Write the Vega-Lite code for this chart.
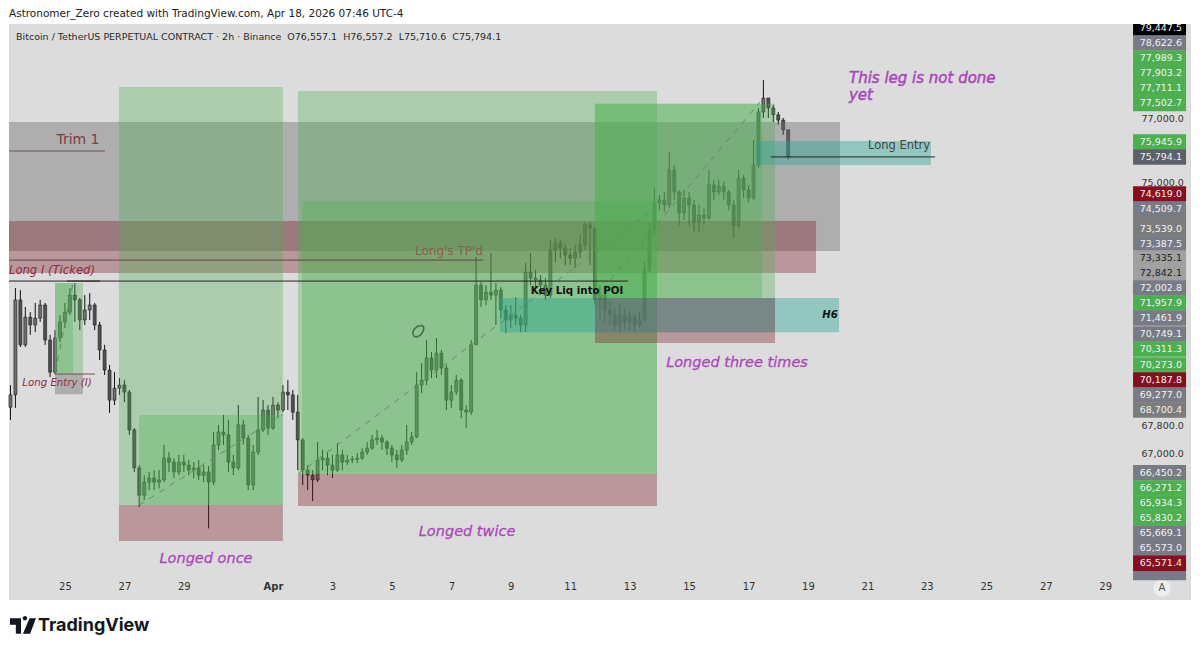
{
  "$schema": "https://vega.github.io/schema/vega-lite/v6.json",
  "width": 1182,
  "height": 576,
  "autosize": {"type": "none"},
  "padding": {"left": 9, "top": 24, "right": 9, "bottom": 53},
  "background": "#ffffff",
  "title": {"text": "Astronomer_Zero created with TradingView.com, Apr 18, 2026 07:46 UTC-4", "anchor": "start", "frame": "group", "fontSize": 10.5, "fontWeight": "normal", "color": "#222222", "offset": 5},
  "config": {"font": "DejaVu Sans", "view": {"fill": "#dcdcdc", "stroke": null}},
  "datasets": {
    "candles": [
      {"t":"2026-03-23T04:00Z","o":68310,"h":68940,"l":67950,"c":68660},
      {"t":"2026-03-23T08:00Z","o":68660,"h":71770,"l":68290,"c":71420},
      {"t":"2026-03-23T12:00Z","o":71420,"h":71710,"l":70040,"c":70100},
      {"t":"2026-03-23T16:00Z","o":70100,"h":71210,"l":70040,"c":70910},
      {"t":"2026-03-23T20:00Z","o":70910,"h":71060,"l":70390,"c":70680},
      {"t":"2026-03-24T00:00Z","o":70680,"h":71330,"l":70470,"c":70880},
      {"t":"2026-03-24T04:00Z","o":70880,"h":71420,"l":70770,"c":71270},
      {"t":"2026-03-24T08:00Z","o":71270,"h":71330,"l":70100,"c":70240},
      {"t":"2026-03-24T12:00Z","o":70240,"h":70390,"l":69170,"c":69310},
      {"t":"2026-03-24T16:00Z","o":69310,"h":70530,"l":69250,"c":70300},
      {"t":"2026-03-24T20:00Z","o":70300,"h":70970,"l":70180,"c":70770},
      {"t":"2026-03-25T00:00Z","o":70770,"h":71330,"l":70590,"c":71060},
      {"t":"2026-03-25T04:00Z","o":71060,"h":71770,"l":70970,"c":71560},
      {"t":"2026-03-25T08:00Z","o":71560,"h":71920,"l":70770,"c":71420},
      {"t":"2026-03-25T12:00Z","o":71420,"h":71480,"l":70530,"c":70830},
      {"t":"2026-03-25T16:00Z","o":70830,"h":71560,"l":70680,"c":71120},
      {"t":"2026-03-25T20:00Z","o":71120,"h":71620,"l":70830,"c":71270},
      {"t":"2026-03-26T00:00Z","o":71270,"h":71330,"l":70530,"c":70680},
      {"t":"2026-03-26T04:00Z","o":70680,"h":70770,"l":69660,"c":69950},
      {"t":"2026-03-26T08:00Z","o":69950,"h":70100,"l":69230,"c":69370},
      {"t":"2026-03-26T12:00Z","o":69370,"h":69520,"l":68150,"c":68510},
      {"t":"2026-03-26T16:00Z","o":68510,"h":69310,"l":68370,"c":68850},
      {"t":"2026-03-26T20:00Z","o":68850,"h":69140,"l":68660,"c":68940},
      {"t":"2026-03-27T00:00Z","o":68940,"h":69080,"l":68450,"c":68740},
      {"t":"2026-03-27T04:00Z","o":68740,"h":68800,"l":67530,"c":67670},
      {"t":"2026-03-27T08:00Z","o":67670,"h":67720,"l":66500,"c":66610},
      {"t":"2026-03-27T12:00Z","o":66610,"h":66690,"l":65540,"c":65860},
      {"t":"2026-03-27T16:00Z","o":65860,"h":66410,"l":65730,"c":66220},
      {"t":"2026-03-27T20:00Z","o":66220,"h":66500,"l":66000,"c":66330},
      {"t":"2026-03-28T00:00Z","o":66330,"h":66550,"l":66000,"c":66220},
      {"t":"2026-03-28T04:00Z","o":66220,"h":66550,"l":66050,"c":66280},
      {"t":"2026-03-28T08:00Z","o":66280,"h":67250,"l":66220,"c":66880},
      {"t":"2026-03-28T12:00Z","o":66880,"h":67050,"l":66500,"c":66770},
      {"t":"2026-03-28T16:00Z","o":66770,"h":66880,"l":66330,"c":66500},
      {"t":"2026-03-28T20:00Z","o":66500,"h":66970,"l":66410,"c":66770},
      {"t":"2026-03-29T00:00Z","o":66770,"h":66970,"l":66500,"c":66690},
      {"t":"2026-03-29T04:00Z","o":66690,"h":66830,"l":66410,"c":66550},
      {"t":"2026-03-29T08:00Z","o":66550,"h":66770,"l":66330,"c":66610},
      {"t":"2026-03-29T12:00Z","o":66610,"h":66830,"l":66280,"c":66410},
      {"t":"2026-03-29T16:00Z","o":66410,"h":66690,"l":66220,"c":66500},
      {"t":"2026-03-29T20:00Z","o":66500,"h":66660,"l":64960,"c":66220},
      {"t":"2026-03-30T00:00Z","o":66220,"h":67610,"l":66140,"c":67250},
      {"t":"2026-03-30T04:00Z","o":67250,"h":67810,"l":67110,"c":67610},
      {"t":"2026-03-30T08:00Z","o":67610,"h":68090,"l":67250,"c":67530},
      {"t":"2026-03-30T12:00Z","o":67530,"h":67950,"l":66500,"c":66770},
      {"t":"2026-03-30T16:00Z","o":66770,"h":66970,"l":66410,"c":66610},
      {"t":"2026-03-30T20:00Z","o":66610,"h":68370,"l":66550,"c":67810},
      {"t":"2026-03-31T00:00Z","o":67810,"h":67950,"l":67250,"c":67440},
      {"t":"2026-03-31T04:00Z","o":67440,"h":67530,"l":66000,"c":66140},
      {"t":"2026-03-31T08:00Z","o":66140,"h":67250,"l":66000,"c":67050},
      {"t":"2026-03-31T12:00Z","o":67050,"h":68600,"l":66970,"c":67670},
      {"t":"2026-03-31T16:00Z","o":67670,"h":68510,"l":67610,"c":68230},
      {"t":"2026-03-31T20:00Z","o":68230,"h":68370,"l":67530,"c":67720},
      {"t":"2026-04-01T00:00Z","o":67720,"h":68600,"l":67670,"c":68370},
      {"t":"2026-04-01T04:00Z","o":68370,"h":68450,"l":68000,"c":68230},
      {"t":"2026-04-01T08:00Z","o":68230,"h":68940,"l":68170,"c":68740},
      {"t":"2026-04-01T12:00Z","o":68740,"h":69080,"l":68230,"c":68660},
      {"t":"2026-04-01T16:00Z","o":68660,"h":68800,"l":67950,"c":68170},
      {"t":"2026-04-01T20:00Z","o":68170,"h":68660,"l":66550,"c":67390},
      {"t":"2026-04-02T00:00Z","o":67390,"h":67440,"l":66140,"c":66550},
      {"t":"2026-04-02T04:00Z","o":66550,"h":66690,"l":66000,"c":66410},
      {"t":"2026-04-02T08:00Z","o":66410,"h":66550,"l":65700,"c":66280},
      {"t":"2026-04-02T12:00Z","o":66280,"h":67330,"l":66220,"c":66830},
      {"t":"2026-04-02T16:00Z","o":66830,"h":67110,"l":66550,"c":66880},
      {"t":"2026-04-02T20:00Z","o":66880,"h":67050,"l":66410,"c":66690},
      {"t":"2026-04-03T00:00Z","o":66690,"h":66970,"l":66330,"c":66550},
      {"t":"2026-04-03T04:00Z","o":66550,"h":67300,"l":66500,"c":66970},
      {"t":"2026-04-03T08:00Z","o":66970,"h":67110,"l":66550,"c":66770},
      {"t":"2026-04-03T12:00Z","o":66770,"h":66970,"l":66690,"c":66830},
      {"t":"2026-04-03T16:00Z","o":66830,"h":66940,"l":66740,"c":66850},
      {"t":"2026-04-03T20:00Z","o":66850,"h":67020,"l":66740,"c":66880},
      {"t":"2026-04-04T00:00Z","o":66880,"h":67160,"l":66830,"c":67050},
      {"t":"2026-04-04T04:00Z","o":67050,"h":67330,"l":66970,"c":67160},
      {"t":"2026-04-04T08:00Z","o":67160,"h":67530,"l":67110,"c":67390},
      {"t":"2026-04-04T12:00Z","o":67390,"h":67670,"l":67250,"c":67440},
      {"t":"2026-04-04T16:00Z","o":67440,"h":67530,"l":67110,"c":67330},
      {"t":"2026-04-04T20:00Z","o":67330,"h":67390,"l":66970,"c":67160},
      {"t":"2026-04-05T00:00Z","o":67160,"h":67250,"l":66770,"c":66970},
      {"t":"2026-04-05T04:00Z","o":66970,"h":67110,"l":66610,"c":66830},
      {"t":"2026-04-05T08:00Z","o":66830,"h":67250,"l":66770,"c":67110},
      {"t":"2026-04-05T12:00Z","o":67110,"h":67810,"l":66970,"c":67330},
      {"t":"2026-04-05T16:00Z","o":67330,"h":67610,"l":67250,"c":67470},
      {"t":"2026-04-05T20:00Z","o":67470,"h":69310,"l":67440,"c":68940},
      {"t":"2026-04-06T00:00Z","o":68940,"h":69570,"l":68710,"c":69080},
      {"t":"2026-04-06T04:00Z","o":69080,"h":70240,"l":68940,"c":69720},
      {"t":"2026-04-06T08:00Z","o":69720,"h":69890,"l":69140,"c":69370},
      {"t":"2026-04-06T12:00Z","o":69370,"h":70300,"l":69140,"c":69860},
      {"t":"2026-04-06T16:00Z","o":69860,"h":69950,"l":69230,"c":69430},
      {"t":"2026-04-06T20:00Z","o":69430,"h":69520,"l":68230,"c":68510},
      {"t":"2026-04-07T00:00Z","o":68510,"h":68940,"l":68290,"c":68740},
      {"t":"2026-04-07T04:00Z","o":68740,"h":69230,"l":68660,"c":69080},
      {"t":"2026-04-07T08:00Z","o":69080,"h":69140,"l":68000,"c":68230},
      {"t":"2026-04-07T12:00Z","o":68230,"h":68370,"l":67720,"c":68170},
      {"t":"2026-04-07T16:00Z","o":68170,"h":70240,"l":68090,"c":70100},
      {"t":"2026-04-07T20:00Z","o":70100,"h":72700,"l":70100,"c":71860},
      {"t":"2026-04-08T00:00Z","o":71860,"h":71950,"l":71210,"c":71420},
      {"t":"2026-04-08T04:00Z","o":71420,"h":71860,"l":71270,"c":71650},
      {"t":"2026-04-08T08:00Z","o":71650,"h":72820,"l":71420,"c":71560},
      {"t":"2026-04-08T12:00Z","o":71560,"h":71920,"l":70680,"c":71710},
      {"t":"2026-04-08T16:00Z","o":71710,"h":71800,"l":70880,"c":71120},
      {"t":"2026-04-08T20:00Z","o":71120,"h":71270,"l":70440,"c":70830},
      {"t":"2026-04-09T00:00Z","o":70830,"h":71270,"l":70590,"c":70970},
      {"t":"2026-04-09T04:00Z","o":70970,"h":71500,"l":70680,"c":70880},
      {"t":"2026-04-09T08:00Z","o":70880,"h":70970,"l":70470,"c":70680},
      {"t":"2026-04-09T12:00Z","o":70680,"h":72520,"l":70470,"c":72250},
      {"t":"2026-04-09T16:00Z","o":72250,"h":72820,"l":71860,"c":72070},
      {"t":"2026-04-09T20:00Z","o":72070,"h":72310,"l":71650,"c":72010},
      {"t":"2026-04-10T00:00Z","o":72010,"h":72160,"l":71560,"c":71860},
      {"t":"2026-04-10T04:00Z","o":71860,"h":72070,"l":71420,"c":71560},
      {"t":"2026-04-10T08:00Z","o":71560,"h":73220,"l":71480,"c":72910},
      {"t":"2026-04-10T12:00Z","o":72910,"h":73280,"l":72550,"c":73130},
      {"t":"2026-04-10T16:00Z","o":73130,"h":73220,"l":72670,"c":72970},
      {"t":"2026-04-10T20:00Z","o":72970,"h":73070,"l":72460,"c":72760},
      {"t":"2026-04-11T00:00Z","o":72760,"h":72970,"l":72460,"c":72670},
      {"t":"2026-04-11T04:00Z","o":72670,"h":73070,"l":72370,"c":72850},
      {"t":"2026-04-11T08:00Z","o":72850,"h":73370,"l":72670,"c":73070},
      {"t":"2026-04-11T12:00Z","o":73070,"h":73760,"l":72910,"c":73670},
      {"t":"2026-04-11T16:00Z","o":73670,"h":73760,"l":72460,"c":73580},
      {"t":"2026-04-11T20:00Z","o":73580,"h":73580,"l":71270,"c":71420},
      {"t":"2026-04-12T00:00Z","o":71420,"h":71860,"l":70880,"c":71560},
      {"t":"2026-04-12T04:00Z","o":71560,"h":71710,"l":70770,"c":71120},
      {"t":"2026-04-12T08:00Z","o":71120,"h":71360,"l":70680,"c":70970},
      {"t":"2026-04-12T12:00Z","o":70970,"h":71180,"l":70530,"c":70680},
      {"t":"2026-04-12T16:00Z","o":70680,"h":71270,"l":70470,"c":70970},
      {"t":"2026-04-12T20:00Z","o":70970,"h":71180,"l":70530,"c":70770},
      {"t":"2026-04-13T00:00Z","o":70770,"h":71120,"l":70530,"c":70940},
      {"t":"2026-04-13T04:00Z","o":70940,"h":70970,"l":70470,"c":70680},
      {"t":"2026-04-13T08:00Z","o":70680,"h":71060,"l":70590,"c":70830},
      {"t":"2026-04-13T12:00Z","o":70830,"h":72550,"l":70770,"c":72310},
      {"t":"2026-04-13T16:00Z","o":72310,"h":73760,"l":72250,"c":73520},
      {"t":"2026-04-13T20:00Z","o":73520,"h":74840,"l":73370,"c":74350},
      {"t":"2026-04-14T00:00Z","o":74350,"h":74600,"l":74130,"c":74440},
      {"t":"2026-04-14T04:00Z","o":74440,"h":74690,"l":74070,"c":74290},
      {"t":"2026-04-14T08:00Z","o":74290,"h":75940,"l":74190,"c":75380},
      {"t":"2026-04-14T12:00Z","o":75380,"h":75530,"l":74440,"c":74690},
      {"t":"2026-04-14T16:00Z","o":74690,"h":74750,"l":73670,"c":74040},
      {"t":"2026-04-14T20:00Z","o":74040,"h":74750,"l":73830,"c":74500},
      {"t":"2026-04-15T00:00Z","o":74500,"h":74690,"l":73670,"c":74290},
      {"t":"2026-04-15T04:00Z","o":74290,"h":74440,"l":73460,"c":73760},
      {"t":"2026-04-15T08:00Z","o":73760,"h":74290,"l":73460,"c":73980},
      {"t":"2026-04-15T12:00Z","o":73980,"h":74190,"l":73670,"c":73890},
      {"t":"2026-04-15T16:00Z","o":73890,"h":75380,"l":73830,"c":74910},
      {"t":"2026-04-15T20:00Z","o":74910,"h":75060,"l":74440,"c":74690},
      {"t":"2026-04-16T00:00Z","o":74690,"h":75060,"l":74600,"c":74870},
      {"t":"2026-04-16T04:00Z","o":74870,"h":75000,"l":74440,"c":74690},
      {"t":"2026-04-16T08:00Z","o":74690,"h":74750,"l":74130,"c":74290},
      {"t":"2026-04-16T12:00Z","o":74290,"h":74440,"l":73280,"c":73670},
      {"t":"2026-04-16T16:00Z","o":73670,"h":75380,"l":73580,"c":75120},
      {"t":"2026-04-16T20:00Z","o":75120,"h":75220,"l":74500,"c":74750},
      {"t":"2026-04-17T00:00Z","o":74750,"h":74910,"l":74380,"c":74500},
      {"t":"2026-04-17T04:00Z","o":74500,"h":76320,"l":74440,"c":75530},
      {"t":"2026-04-17T08:00Z","o":75530,"h":77340,"l":75440,"c":77210},
      {"t":"2026-04-17T12:00Z","o":77210,"h":78240,"l":77020,"c":77660},
      {"t":"2026-04-17T16:00Z","o":77660,"h":77660,"l":77020,"c":77340},
      {"t":"2026-04-17T20:00Z","o":77340,"h":77440,"l":76890,"c":77120},
      {"t":"2026-04-18T00:00Z","o":77120,"h":77210,"l":76800,"c":76950},
      {"t":"2026-04-18T04:00Z","o":76950,"h":77020,"l":76480,"c":76640},
      {"t":"2026-04-18T08:00Z","o":76640,"h":76640,"l":75710,"c":75790}
    ],
    "zones": [
      {"start":"2026-03-23T02:49Z","end":"2026-04-20T01:54Z","top":76890,"bottom":72880,"kind":"gray"},
      {"start":"2026-03-23T02:49Z","end":"2026-04-19T06:30Z","top":73795,"bottom":72220,"kind":"red"},
      {"start":"2026-03-24T16:00Z","end":"2026-03-25T14:36Z","top":71920,"bottom":69285,"kind":"green"},
      {"start":"2026-03-24T16:00Z","end":"2026-03-25T06:30Z","top":71920,"bottom":69285,"kind":"green"},
      {"start":"2026-03-24T16:00Z","end":"2026-03-25T14:36Z","top":69285,"bottom":68680,"kind":"gray"},
      {"start":"2026-03-26T19:36Z","end":"2026-04-01T08:00Z","top":78015,"bottom":65590,"kind":"green"},
      {"start":"2026-03-27T11:48Z","end":"2026-04-01T08:00Z","top":68090,"bottom":65590,"kind":"green"},
      {"start":"2026-03-26T19:36Z","end":"2026-04-01T08:00Z","top":65590,"bottom":64620,"kind":"red"},
      {"start":"2026-04-01T20:12Z","end":"2026-04-13T22:06Z","top":77888,"bottom":66440,"kind":"green"},
      {"start":"2026-04-01T23:24Z","end":"2026-04-13T22:06Z","top":74410,"bottom":66440,"kind":"green"},
      {"start":"2026-04-01T20:12Z","end":"2026-04-13T22:06Z","top":66440,"bottom":65563,"kind":"red"},
      {"start":"2026-04-11T20:00Z","end":"2026-04-17T21:24Z","top":77472,"bottom":71475,"kind":"green"},
      {"start":"2026-04-11T20:00Z","end":"2026-04-17T10:54Z","top":77472,"bottom":71475,"kind":"green"},
      {"start":"2026-04-11T20:00Z","end":"2026-04-17T21:24Z","top":71475,"bottom":70155,"kind":"red"},
      {"start":"2026-04-08T15:18Z","end":"2026-04-20T01:06Z","top":71475,"bottom":70470,"kind":"teal"},
      {"start":"2026-04-11T20:00Z","end":"2026-04-17T21:24Z","top":71475,"bottom":70470,"kind":"gray"},
      {"start":"2026-04-17T06:00Z","end":"2026-04-23T03:18Z","top":76288,"bottom":75530,"kind":"teal"}
    ],
    "lines": [
      {"start":"2026-03-23T02:49Z","end":"2026-03-26T08:18Z","from":75970,"to":75970,"kind":"trim"},
      {"start":"2026-03-23T02:49Z","end":"2026-04-08T01:36Z","from":72610,"to":72610,"kind":"brown"},
      {"start":"2026-03-23T02:49Z","end":"2026-04-12T22:42Z","from":71980,"to":71980,"kind":"dark"},
      {"start":"2026-03-25T01:42Z","end":"2026-03-26T04:18Z","from":71980,"to":71980,"kind":"dark"},
      {"start":"2026-04-17T18:06Z","end":"2026-04-23T06:36Z","from":75785,"to":75785,"kind":"dark"},
      {"start":"2026-03-24T16:00Z","end":"2026-03-26T00:18Z","from":69255,"to":69255,"kind":"trim"},
      {"start":"2026-03-24T16:00Z","end":"2026-03-25T06:30Z","from":69285,"to":71920,"kind":"trend"},
      {"start":"2026-03-27T11:48Z","end":"2026-04-01T08:00Z","from":65590,"to":68115,"kind":"trend"},
      {"start":"2026-04-01T20:12Z","end":"2026-04-13T22:06Z","from":66440,"to":74250,"kind":"trend"},
      {"start":"2026-04-11T20:00Z","end":"2026-04-17T09:18Z","from":71475,"to":77535,"kind":"trend"}
    ],
    "notes": [
      {"t":"2026-03-23T08:30Z","p":79651,"text":"Bitcoin / TetherUS PERPETUAL CONTRACT · 2h · Binance\u00a0\u00a0O76,557.1\u00a0\u00a0H76,557.2\u00a0\u00a0L75,710.6\u00a0\u00a0C75,794.1","style":"header"},
      {"t":"2026-03-25T10:30Z","p":76320,"text":"Trim 1","style":"trim"},
      {"t":"2026-04-06T22:06Z","p":72880,"text":"Long's TP'd","style":"tp"},
      {"t":"2026-03-24T13:30Z","p":72280,"text":"Long I (Ticked)","style":"ticked"},
      {"t":"2026-03-24T17:36Z","p":68995,"text":"Long Entry (I)","style":"entry"},
      {"t":"2026-04-11T05:30Z","p":71680,"text":"Key Liq into POI","style":"key"},
      {"t":"2026-04-19T17:48Z","p":70970,"text":"H6","style":"h6"},
      {"t":"2026-04-22T01:30Z","p":76130,"text":"Long Entry","style":"long"},
      {"t":"2026-03-29T17:54Z","p":64140,"text":"Longed once","style":"plan"},
      {"t":"2026-04-07T12:42Z","p":64860,"text":"Longed twice","style":"plan"},
      {"t":"2026-04-16T14:42Z","p":69570,"text":"Longed three times","style":"plan"},
      {"t":"2026-04-20T09:06Z","p":78307,"text":"This leg is not done","style":"leg"},
      {"t":"2026-04-20T09:06Z","p":77760,"text":"yet","style":"leg"},
      {"t":"2026-03-24T02:12Z","p":62380,"text":"TradingView","style":"brand"}
    ],
    "tags": [
      {"slot":0,"price":79447.5,"tone":"black"},
      {"slot":1,"price":78622.6,"tone":"slate"},
      {"slot":2,"price":77989.3,"tone":"green"},
      {"slot":3,"price":77903.2,"tone":"green"},
      {"slot":4,"price":77711.1,"tone":"green"},
      {"slot":5,"price":77502.7,"tone":"green"},
      {"slot":7.56,"price":75945.9,"tone":"green"},
      {"slot":8.55,"price":75794.1,"tone":"dark"},
      {"slot":11,"price":74619.0,"tone":"maroon"},
      {"slot":12.6,"tone":"gray"},
      {"slot":12,"price":74509.7,"tone":"slate"},
      {"slot":13.33,"price":73539.0,"tone":"gray"},
      {"slot":14.32,"price":73387.5,"tone":"slate"},
      {"slot":15.25,"price":73335.1,"tone":"light"},
      {"slot":16.25,"price":72842.1,"tone":"light"},
      {"slot":17.24,"price":72002.8,"tone":"slate"},
      {"slot":18.24,"price":71957.9,"tone":"green"},
      {"slot":19.23,"price":71461.9,"tone":"slate"},
      {"slot":20.29,"price":70749.1,"tone":"slate"},
      {"slot":21.29,"price":70311.3,"tone":"green"},
      {"slot":22.35,"price":70273.0,"tone":"green"},
      {"slot":23.34,"price":70187.8,"tone":"maroon"},
      {"slot":24.34,"price":69277.0,"tone":"slate"},
      {"slot":25.33,"price":68700.4,"tone":"gray"},
      {"slot":29.5,"price":66450.2,"tone":"slate"},
      {"slot":30.5,"price":66271.2,"tone":"green"},
      {"slot":31.5,"price":65934.3,"tone":"green"},
      {"slot":32.5,"price":65830.2,"tone":"green"},
      {"slot":33.5,"price":65669.1,"tone":"slate"},
      {"slot":34.5,"price":65573.0,"tone":"slate"},
      {"slot":36.1,"tone":"slate"},
      {"slot":35.5,"price":65571.4,"tone":"maroon"}
    ]
  },
  "resolve": {"scale": {"y": "independent"}, "axis": {"y": "independent"}},
  "layer": [
    {
      "layer": [
        {
          "data": {"name": "candles"},
          "mark": {"type": "rule", "color": "#111111", "strokeWidth": 1},
          "encoding": {
            "x": {
              "field": "t", "type": "temporal", "title": null,
              "scale": {"type": "utc", "padding": 0, "domain": [
                {"year": 2026, "month": "mar", "date": 23, "hours": 2, "minutes": 49, "utc": true},
                {"year": 2026, "month": "may", "date": 1, "hours": 21, "minutes": 18, "utc": true}
              ]},
              "axis": {
                "offset": -25, "domain": false, "ticks": false, "grid": false, "labelPadding": 6,
                "labelFontSize": 10, "labelColor": "#333333", "labelFlush": false, "labelOverlap": false,
                "labelFontWeight": {"condition": {"test": "utcdate(datum.value) == 1", "value": "bold"}, "value": "normal"},
                "labelExpr": "utcdate(datum.value) == 1 ? 'Apr' : '' + utcdate(datum.value)",
                "values": [
                  {"year": 2026, "month": "mar", "date": 25, "utc": true},
                  {"year": 2026, "month": "mar", "date": 27, "utc": true},
                  {"year": 2026, "month": "mar", "date": 29, "utc": true},
                  {"year": 2026, "month": "apr", "date": 1, "utc": true},
                  {"year": 2026, "month": "apr", "date": 3, "utc": true},
                  {"year": 2026, "month": "apr", "date": 5, "utc": true},
                  {"year": 2026, "month": "apr", "date": 7, "utc": true},
                  {"year": 2026, "month": "apr", "date": 9, "utc": true},
                  {"year": 2026, "month": "apr", "date": 11, "utc": true},
                  {"year": 2026, "month": "apr", "date": 13, "utc": true},
                  {"year": 2026, "month": "apr", "date": 15, "utc": true},
                  {"year": 2026, "month": "apr", "date": 17, "utc": true},
                  {"year": 2026, "month": "apr", "date": 19, "utc": true},
                  {"year": 2026, "month": "apr", "date": 21, "utc": true},
                  {"year": 2026, "month": "apr", "date": 23, "utc": true},
                  {"year": 2026, "month": "apr", "date": 25, "utc": true},
                  {"year": 2026, "month": "apr", "date": 27, "utc": true},
                  {"year": 2026, "month": "apr", "date": 29, "utc": true}
                ]
              }
            },
            "y": {
              "field": "l", "type": "quantitative", "title": null,
              "scale": {"type": "log", "domain": [63058, 80082], "nice": false, "padding": 0},
              "axis": {
                "orient": "right", "offset": -50, "domain": false, "ticks": false, "grid": false,
                "labelPadding": 0, "labelFontSize": 9.5, "labelColor": "#333333", "labelFlush": false, "labelOverlap": false,
                "format": ",.1f", "values": [67000, 67800, 75000, 77000]
              }
            },
            "y2": {"field": "h"}
          }
        },
        {
          "data": {"name": "candles"},
          "mark": {"type": "bar", "size": 3, "stroke": "#1c1c1c", "strokeWidth": 0.6},
          "encoding": {
            "x": {"field": "t", "type": "temporal"},
            "y": {"field": "o", "type": "quantitative"},
            "y2": {"field": "c"},
            "color": {"condition": {"test": "datum.c >= datum.o", "value": "#6e6e6e"}, "value": "#505050"}
          }
        },
        {
          "data": {"name": "zones"},
          "mark": {"type": "rect"},
          "encoding": {
            "x": {"field": "start", "type": "temporal"},
            "x2": {"field": "end"},
            "y": {"field": "top", "type": "quantitative"},
            "y2": {"field": "bottom"},
            "fill": {
              "field": "kind", "type": "nominal", "legend": null,
              "scale": {
                "domain": ["gray", "red", "green", "teal"],
                "range": ["rgba(110,110,110,0.42)", "rgba(123,23,34,0.35)", "rgba(76,175,80,0.33)", "rgba(37,165,147,0.4)"]
              }
            }
          }
        },
        {
          "data": {"name": "lines"},
          "transform": [{"filter": "datum.kind != 'trend'"}],
          "mark": {"type": "rule", "strokeWidth": 1},
          "encoding": {
            "x": {"field": "start", "type": "temporal"},
            "x2": {"field": "end"},
            "y": {"field": "from", "type": "quantitative"},
            "y2": {"field": "to"},
            "stroke": {
              "field": "kind", "type": "nominal", "legend": null,
              "scale": {"domain": ["trim", "brown", "dark"], "range": ["#6f5555", "#5c4a3c", "#222222"]}
            }
          }
        },
        {
          "data": {"name": "lines"},
          "transform": [{"filter": "datum.kind == 'trend'"}],
          "mark": {"type": "rule", "strokeWidth": 1, "color": "#5f8f62", "strokeDash": [6, 6]},
          "encoding": {
            "x": {"field": "start", "type": "temporal"},
            "x2": {"field": "end"},
            "y": {"field": "from", "type": "quantitative"},
            "y2": {"field": "to"}
          }
        },
        {
          "data": {"values": [{"t": "2026-04-05T21:06Z", "p": 70500}]},
          "mark": {"type": "point", "shape": "M-0.7 0.5C-0.9 0 -0.2 -0.9 0.5 -0.8C1 -0.7 0.9 0 0.3 0.6C-0.1 0.9 -0.6 0.9 -0.7 0.5Z", "size": 196, "filled": false, "stroke": "#2e4a30", "strokeWidth": 1.6},
          "encoding": {"x": {"field": "t", "type": "temporal"}, "y": {"field": "p", "type": "quantitative"}}
        },
        {
          "data": {"values": [{"t": "2026-04-30T21:54Z", "p": 63372}]},
          "mark": {"type": "point", "shape": "circle", "size": 300, "filled": true, "color": "#eeeeee", "opacity": 1},
          "encoding": {"x": {"field": "t", "type": "temporal"}, "y": {"field": "p", "type": "quantitative"}}
        },
        {
          "data": {"values": [{"t": "2026-04-30T21:54Z", "p": 63372, "text": "A"}]},
          "mark": {"type": "text", "fontSize": 10, "color": "#555555", "align": "center", "baseline": "middle"},
          "encoding": {"x": {"field": "t", "type": "temporal"}, "y": {"field": "p", "type": "quantitative"}, "text": {"field": "text"}}
        },
        {
          "data": {"values": [{"t": "2026-03-23T14:06Z", "p": 62380}]},
          "mark": {"type": "point", "shape": "M-1 -0.6H-0.15V0.6H-0.55V-0.1H-1ZM0.5 -0.6H1L0.55 0.6H0ZM-0.02 -0.6a0.17 0.17 0 1 1 0.34 0a0.17 0.17 0 1 1 -0.34 0Z", "size": 676, "filled": true, "color": "#131722", "opacity": 1},
          "encoding": {"x": {"field": "t", "type": "temporal"}, "y": {"field": "p", "type": "quantitative"}}
        },
        {
          "data": {"name": "notes"},
          "transform": [{"filter": "datum.style == 'header'"}],
          "mark": {"type": "text", "align": "left", "baseline": "middle", "fontSize": 9.5, "color": "#2a2a2a"},
          "encoding": {"x": {"field": "t", "type": "temporal"}, "y": {"field": "p", "type": "quantitative"}, "text": {"field": "text"}}
        },
        {
          "data": {"name": "notes"},
          "transform": [{"filter": "datum.style == 'trim'"}],
          "mark": {"type": "text", "align": "center", "baseline": "middle", "fontSize": 14, "color": "#7c4046"},
          "encoding": {"x": {"field": "t", "type": "temporal"}, "y": {"field": "p", "type": "quantitative"}, "text": {"field": "text"}}
        },
        {
          "data": {"name": "notes"},
          "transform": [{"filter": "datum.style == 'tp'"}],
          "mark": {"type": "text", "align": "center", "baseline": "middle", "fontSize": 12, "color": "#8c5f50"},
          "encoding": {"x": {"field": "t", "type": "temporal"}, "y": {"field": "p", "type": "quantitative"}, "text": {"field": "text"}}
        },
        {
          "data": {"name": "notes"},
          "transform": [{"filter": "datum.style == 'ticked'"}],
          "mark": {"type": "text", "align": "center", "baseline": "middle", "fontSize": 11.6, "fontStyle": "italic", "color": "#8a2e3f"},
          "encoding": {"x": {"field": "t", "type": "temporal"}, "y": {"field": "p", "type": "quantitative"}, "text": {"field": "text"}}
        },
        {
          "data": {"name": "notes"},
          "transform": [{"filter": "datum.style == 'entry'"}],
          "mark": {"type": "text", "align": "center", "baseline": "middle", "fontSize": 10.2, "fontStyle": "italic", "color": "#8a2e3f"},
          "encoding": {"x": {"field": "t", "type": "temporal"}, "y": {"field": "p", "type": "quantitative"}, "text": {"field": "text"}}
        },
        {
          "data": {"name": "notes"},
          "transform": [{"filter": "datum.style == 'key'"}],
          "mark": {"type": "text", "align": "center", "baseline": "middle", "fontSize": 10.3, "fontWeight": "bold", "color": "#111111"},
          "encoding": {"x": {"field": "t", "type": "temporal"}, "y": {"field": "p", "type": "quantitative"}, "text": {"field": "text"}}
        },
        {
          "data": {"name": "notes"},
          "transform": [{"filter": "datum.style == 'h6'"}],
          "mark": {"type": "text", "align": "center", "baseline": "middle", "fontSize": 10, "fontStyle": "italic", "fontWeight": "bold", "color": "#111111"},
          "encoding": {"x": {"field": "t", "type": "temporal"}, "y": {"field": "p", "type": "quantitative"}, "text": {"field": "text"}}
        },
        {
          "data": {"name": "notes"},
          "transform": [{"filter": "datum.style == 'long'"}],
          "mark": {"type": "text", "align": "center", "baseline": "middle", "fontSize": 11.5, "color": "#444444"},
          "encoding": {"x": {"field": "t", "type": "temporal"}, "y": {"field": "p", "type": "quantitative"}, "text": {"field": "text"}}
        },
        {
          "data": {"name": "notes"},
          "transform": [{"filter": "datum.style == 'plan'"}],
          "mark": {"type": "text", "align": "center", "baseline": "middle", "fontSize": 14.5, "fontStyle": "italic", "color": "#ab47bc", "stroke": "#ab47bc", "strokeWidth": 0.3},
          "encoding": {"x": {"field": "t", "type": "temporal"}, "y": {"field": "p", "type": "quantitative"}, "text": {"field": "text"}}
        },
        {
          "data": {"name": "notes"},
          "transform": [{"filter": "datum.style == 'leg'"}],
          "mark": {"type": "text", "align": "left", "baseline": "middle", "fontSize": 15, "fontStyle": "italic", "color": "#ab47bc", "stroke": "#ab47bc", "strokeWidth": 0.5},
          "encoding": {"x": {"field": "t", "type": "temporal"}, "y": {"field": "p", "type": "quantitative"}, "text": {"field": "text"}}
        },
        {
          "data": {"name": "notes"},
          "transform": [{"filter": "datum.style == 'brand'"}],
          "mark": {"type": "text", "align": "left", "baseline": "middle", "font": "Inter", "fontSize": 18, "fontWeight": "bold", "color": "#131722"},
          "encoding": {"x": {"field": "t", "type": "temporal"}, "y": {"field": "p", "type": "quantitative"}, "text": {"field": "text"}}
        }
      ]
    },
    {
      "layer": [
        {
          "data": {"name": "tags"},
          "mark": {"type": "tick", "orient": "horizontal", "thickness": 15.5, "size": 53, "clip": true, "opacity": 1},
          "encoding": {
            "x": {"datum": {"year": 2026, "month": "apr", "date": 30, "hours": 19, "minutes": 54, "utc": true}, "type": "temporal"},
            "y": {
              "field": "slot", "type": "quantitative", "axis": null,
              "scale": {"domain": [-0.265, 37.93], "reverse": true, "nice": false, "zero": false}
            },
            "color": {
              "field": "tone", "type": "nominal", "legend": null,
              "scale": {
                "domain": ["black", "slate", "green", "dark", "maroon", "gray", "light"],
                "range": ["#000000", "#787b86", "#4caf50", "#5d606b", "#880e1f", "#7c7c7c", "#a0a0a0"]
              }
            }
          }
        },
        {
          "data": {"name": "tags"},
          "transform": [{"filter": "isValid(datum.price)"}],
          "mark": {"type": "text", "align": "right", "baseline": "middle", "fontSize": 9.5, "clip": true},
          "encoding": {
            "x": {"datum": {"year": 2026, "month": "may", "date": 1, "hours": 14, "utc": true}, "type": "temporal"},
            "y": {"field": "slot", "type": "quantitative"},
            "text": {"field": "price", "type": "quantitative", "format": ",.1f"},
            "color": {"condition": {"test": "datum.tone == 'light'", "value": "#222222"}, "value": "#f2f2f2"}
          }
        }
      ]
    }
  ]
}
